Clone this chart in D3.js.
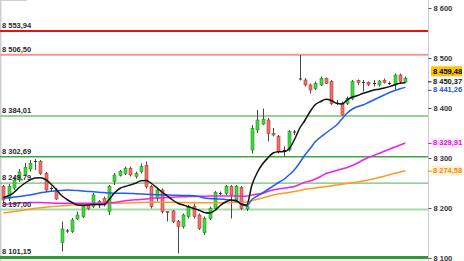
<!DOCTYPE html>
<html>
<head>
<meta charset="utf-8">
<script src="https://cdn.jsdelivr.net/npm/d3@7/dist/d3.min.js"></script>
<style>
  html, body { margin: 0; padding: 0; background: #fff; }
  svg { display: block; font-family: "Liberation Sans", Arial, sans-serif; }
</style>
</head>
<body>
<svg id="chart" width="464" height="261"></svg>
<script>
// daily candles, oldest first
var open  = [8243,8219,8240,8256,8267,8278,8293,8293,8269,8239,8236,8131,8154,8153,8178,8183,8206,8203,8206,8219,
             8193,8253,8265,8269,8279,8263,8273,8285,8243,8219,8236,8193,8194,8173,8163,8183,8203,8186,8151,8179,
             8199,8230,8229,8243,8216,8241,8198,8316,8356,8368,8376,8349,8343,8316,8316,8353,8458,8456,8446,8439,
             8446,8459,8453,8409,8409,8409,8419,8455,8451,8451,8449,8446,8455,8450,8446,8466,8452];
var high  = [8246,8248,8262,8278,8290,8296,8298,8296,8272,8243,8240,8173,8158,8180,8193,8206,8210,8230,8216,8223,
             8246,8270,8276,8283,8283,8273,8289,8293,8246,8239,8239,8194,8196,8176,8189,8206,8209,8189,8183,8203,
             8234,8233,8246,8246,8246,8244,8206,8366,8396,8399,8380,8360,8346,8323,8356,8356,8506,8460,8449,8453,
             8463,8461,8456,8416,8413,8423,8456,8457,8456,8453,8456,8456,8459,8453,8469,8469,8463];
var low   = [8210,8214,8236,8252,8264,8273,8276,8266,8232,8233,8216,8113,8150,8150,8176,8180,8196,8200,8200,8203,
             8186,8246,8263,8266,8263,8259,8269,8239,8199,8213,8189,8173,8170,8109,8159,8179,8179,8156,8146,8176,
             8196,8226,8226,8179,8213,8196,8194,8309,8350,8366,8333,8343,8309,8303,8313,8346,8455,8443,8429,8436,
             8444,8448,8406,8406,8385,8406,8416,8446,8433,8444,8443,8443,8449,8446,8436,8450,8450];
var close = [8216,8243,8256,8272,8281,8289,8294,8269,8236,8240,8218,8158,8155,8176,8186,8203,8199,8226,8213,8206,
             8243,8266,8273,8279,8266,8269,8283,8243,8203,8236,8193,8191,8173,8163,8186,8203,8183,8159,8179,8199,
             8231,8229,8243,8226,8243,8199,8203,8359,8376,8377,8349,8346,8313,8316,8353,8352,8459,8446,8436,8449,
             8459,8449,8409,8410,8386,8419,8453,8451,8452,8447,8450,8454,8451,8449,8466,8453,8459.48];

// moving averages
var maShort = [8221,8224.4,8231,8241,8249,8255.6,8260,8260.4,8257,8248,8237,8225,8217,8211,8206,8205.6,8206,8207,8207,8206.8,
               8217,8230,8239,8243,8246,8249.4,8254.6,8255,8249,8240.6,8232,8224,8216,8209.6,8206,8202.6,8199,8195.6,8191,8190,
               8195,8205,8212,8216,8215,8207.6,8206,8246,8271,8288,8300,8310,8312.6,8312.8,8318,8336,8359,8375,8393,8407,
               8413,8417.4,8415,8409.4,8408,8416.4,8422,8425,8429.4,8432.4,8436,8437.6,8439.8,8442.8,8446.6,8449.4,8450.37];
var maMid   = [8219.4,8220.4,8222,8223,8224.4,8226,8228,8230.4,8232,8233.4,8234.6,8235.2,8235.8,8235.6,8235,8234,8233.2,8232.4,8231.6,8230.8,
               8230,8229.6,8229.4,8229.4,8229.2,8228.6,8228,8227.4,8227,8226.6,8226.2,8226,8225.6,8225.4,8225.2,8225,8224.6,8223,8220,8219,
               8218.4,8218,8217.2,8215.6,8213.6,8209,8204,8217,8224,8230,8237,8244,8251,8257,8266,8276,8290,8306,8319,8333,
               8342,8350,8358,8366,8378,8390,8398,8403,8406,8411,8416,8421,8426,8431,8435,8438.6,8441.26];
var maLong  = [8207,8208,8209,8210,8210.4,8210.8,8211,8211,8210.6,8210,8209.6,8209.4,8209.4,8209.4,8209.4,8209.4,8209.4,8209.4,8209.6,8209.8,
               8210,8211,8212.6,8214.4,8215.6,8216.4,8217,8218,8219.4,8220,8220.4,8221,8221.6,8222,8222.6,8222.8,8223,8223.4,8223.6,8223.8,
               8224,8224,8224,8224,8224,8223.6,8224,8226,8228,8229.4,8233,8236,8238,8239.4,8241,8243,8247,8251.4,8254,8258,
               8263,8269,8272,8275,8278,8281,8285,8290,8296,8301,8305,8309,8313.4,8317.6,8322,8326,8329.91];
var maSlow  = [8190,8191.4,8193,8194.4,8196,8197.6,8199.4,8200.4,8201.6,8202.6,8203.6,8204.4,8205.2,8205.8,8206.4,8207,8207.6,8208,8208.4,8208.8,
               8209.2,8209.4,8209.6,8210,8210.2,8210.6,8211,8211.4,8211.6,8211.6,8211.6,8211.6,8211.4,8211.2,8211,8210.8,8210.6,8210.6,8210.6,8210.6,
               8210.6,8210.6,8210.6,8210.8,8211.2,8211.6,8212,8215,8217.4,8220,8223,8226,8228,8229.6,8231,8233,8235,8237.4,8239,8240,
               8241.4,8243,8244.4,8246,8247.6,8249,8250.4,8252,8254,8256,8258.4,8261,8263.6,8266.6,8269.4,8272.2,8274.58];

// horizontal support / resistance levels
var levels = [8553.94, 8506.50, 8384.01, 8302.69, 8249.79, 8197.00, 8101.15];
var levelColors = ['#e41414', '#f49494', '#96d296', '#3fa73f', '#52ad52', '#a6d9a6', '#2f9a2f'];
var levelWidths = [2, 2, 2, 1.5, 1, 2, 3];

var yTicks = [8100, 8200, 8300, 8400, 8500, 8600];

var loc = d3.formatLocale({ decimal: ',', thousands: ' ', grouping: [3], currency: ['', ''] });
var fmt2 = loc.format(',.2f');
var fmt0 = loc.format(',.0f');

var W = 464, H = 261, axisX = 428;
var svg = d3.select('#chart');

var x = d3.scaleBand()
  .domain(d3.range(close.length))
  .range([0.7, 408]);

var y = d3.scaleLinear()
  .domain([8100, 8600])
  .range([258, 8]);

function cx(i) { return x(i) + x.bandwidth() / 2; }

// frame
svg.append('line').attr('x1', 0.75).attr('x2', 0.75).attr('y1', 0).attr('y2', H)
  .attr('stroke', '#cfcfcf').attr('stroke-width', 1.5);
svg.append('line').attr('x1', 0).attr('x2', 27).attr('y1', 0.5).attr('y2', 0.5)
  .attr('stroke', '#cfcfcf').attr('stroke-width', 1);

// levels
svg.append('g').selectAll('line')
  .data(levels)
  .join('line')
  .attr('x1', 0).attr('x2', axisX)
  .attr('y1', function (d) { return y(d); })
  .attr('y2', function (d) { return y(d); })
  .attr('stroke', function (d, i) { return levelColors[i]; })
  .attr('stroke-width', function (d, i) { return levelWidths[i]; });

// candles
var candles = svg.append('g').selectAll('g')
  .data(d3.range(close.length))
  .join('g');

candles.append('line')
  .attr('x1', function (i) { return Math.round(cx(i)) + 0.5; })
  .attr('x2', function (i) { return Math.round(cx(i)) + 0.5; })
  .attr('y1', function (i) { return y(high[i]); })
  .attr('y2', function (i) { return y(low[i]); })
  .attr('stroke', '#4a4a4a')
  .attr('stroke-width', 1);

candles.append('rect')
  .attr('x', function (i) { return Math.round(cx(i)) - 1; })
  .attr('width', 3)
  .attr('y', function (i) { return y(Math.max(open[i], close[i])); })
  .attr('height', function (i) { return Math.max(1, Math.abs(y(open[i]) - y(close[i]))); })
  .attr('fill', function (i) {
    if (Math.abs(close[i] - open[i]) < 2) return '#333';
    return close[i] > open[i] ? '#3fd83f' : '#ef6f6a';
  })
  .attr('stroke', function (i) {
    if (Math.abs(close[i] - open[i]) < 2) return 'none';
    return close[i] > open[i] ? '#1f8f1f' : '#b23a36';
  })
  .attr('stroke-width', 0.6);

// moving averages
var line = d3.line()
  .x(function (d, i) { return cx(i); })
  .y(function (d) { return y(d); })
  .curve(d3.curveMonotoneX);

var maSeries = [maSlow, maLong, maMid, maShort];
var maColors = ['#ff9a1e', '#f01ef0', '#1f5cf5', '#111111'];
svg.append('g').selectAll('path')
  .data(maSeries)
  .join('path')
  .attr('d', line)
  .attr('fill', 'none')
  .attr('stroke', function (d, i) { return maColors[i]; })
  .attr('stroke-width', 1.5);

// level labels on the left
svg.append('g').selectAll('text')
  .data(levels)
  .join('text')
  .attr('x', 2)
  .attr('y', function (d) { return y(d) - 3; })
  .attr('font-size', 7.5)
  .attr('font-weight', 'bold')
  .attr('fill', '#2a2a2a')
  .text(function (d) { return fmt2(d); });

// right axis
svg.append('line').attr('x1', axisX + 0.5).attr('x2', axisX + 0.5).attr('y1', 0).attr('y2', H)
  .attr('stroke', '#cccccc').attr('stroke-width', 1);

var axis = svg.append('g')
  .attr('transform', 'translate(' + (axisX + 0.5) + ',0)')
  .call(d3.axisRight(y).tickValues(yTicks).tickSize(3).tickPadding(2).tickFormat(fmt0));
axis.select('.domain').remove();
axis.selectAll('line').attr('stroke', '#555');
axis.selectAll('text')
  .attr('font-size', 7.5)
  .attr('font-weight', 'bold')
  .attr('font-family', '"Liberation Sans", Arial, sans-serif')
  .attr('fill', '#333');

// last value tags
var tags = [
  { v: close[close.length - 1], color: '#000', bg: '#ffc400', shift: -7 },
  { v: maShort[maShort.length - 1], color: '#111', bg: null, shift: -1.5 },
  { v: maMid[maMid.length - 1], color: '#1f4fe0', bg: null, shift: 2.5 },
  { v: maLong[maLong.length - 1], color: '#e010e0', bg: '#fde8fd', shift: 0 },
  { v: maSlow[maSlow.length - 1], color: '#f08a00', bg: '#fff1d6', shift: 0 }
];

var tg = svg.append('g').selectAll('g')
  .data(tags)
  .join('g')
  .attr('transform', function (d) { return 'translate(0,' + (y(d.v) + d.shift) + ')'; });

tg.filter(function (d) { return d.bg; })
  .append('rect')
  .attr('x', 431).attr('y', -5).attr('width', 31).attr('height', 10)
  .attr('fill', function (d) { return d.bg; });

tg.filter(function (d) { return !d.bg || d.shift === 0; })
  .append('line')
  .attr('x1', axisX).attr('x2', axisX + 3.5).attr('y1', 0.5).attr('y2', 0.5)
  .attr('stroke', function (d) { return d.color; });

tg.append('text')
  .attr('x', 433)
  .attr('dy', '0.32em')
  .attr('font-size', 7.5)
  .attr('font-weight', 'bold')
  .attr('fill', function (d) { return d.color; })
  .text(function (d) { return fmt2(d.v); });
</script>
</body>
</html>
